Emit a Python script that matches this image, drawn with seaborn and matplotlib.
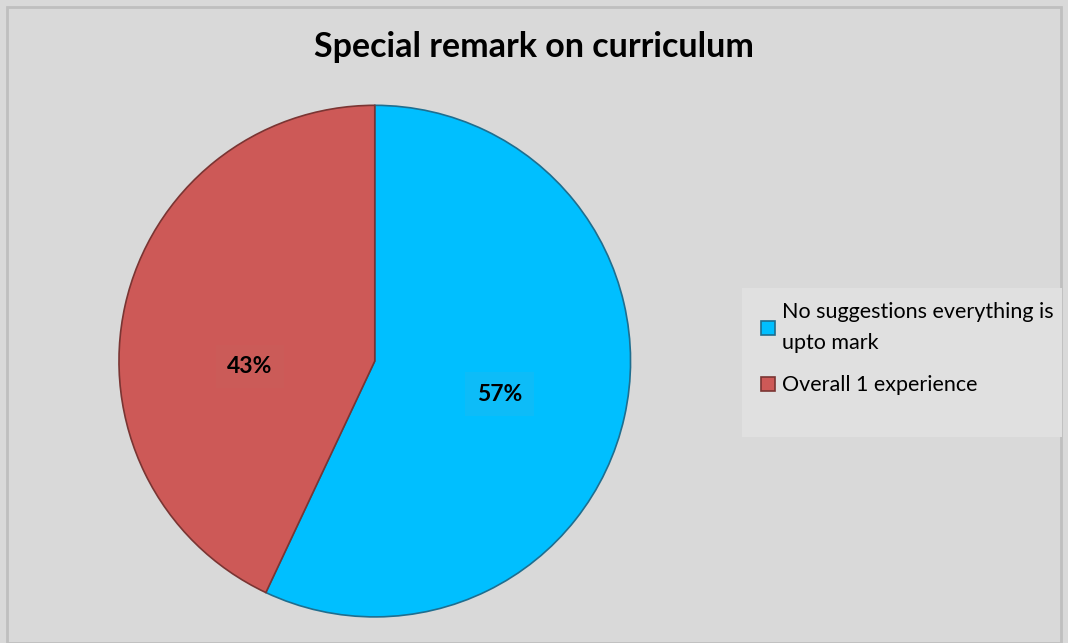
import matplotlib
matplotlib.use("Agg")
import matplotlib.pyplot as plt
import seaborn as sns
from matplotlib.patches import Rectangle

categories = ["No suggestions everything is\nupto mark", "Overall 1 experience"]
values = [57, 43]
colors = ["#00BFFF", "#CD5957"]
label_colors = ["#0DBCF8", "#CB5B58"]
title = "Special remark on curriculum"

sns.set_theme(style="white")
plt.rcParams['font.family'] = ['Lato', 'DejaVu Sans']
plt.rcParams['text.color'] = 'black'

fig = plt.figure(figsize=(10.68, 6.43), dpi=100, facecolor="#D9D9D9")
fig.patches.append(Rectangle((0.007, 0.0), 0.986, 0.989, transform=fig.transFigure,
                             fill=False, edgecolor="#BFBFBF", linewidth=2, zorder=0))

ax = fig.add_axes([0.1114, 0.0404, 0.479, 0.796])
ax.set_facecolor("none")
wedges, texts, autotexts = ax.pie(
    values, colors=colors, startangle=90, counterclock=False,
    autopct=lambda p: f"{p:.0f}%", pctdistance=0.5,
    wedgeprops=dict(edgecolor="#7A3533", linewidth=1.2),
    textprops=dict(fontsize=16.5, fontweight="bold", color="black"))
wedges[0].set_edgecolor("#1F6E8F")
for t, c in zip(autotexts, label_colors):
    t.set_bbox(dict(boxstyle="square,pad=0.5", facecolor=c, edgecolor="none"))
# Excel-style label placement nudges
x1, y1 = autotexts[1].get_position()
autotexts[1].set_position((x1, y1 - 0.13))
x0, y0 = autotexts[0].get_position()
autotexts[0].set_position((x0, y0 - 0.02))
ax.set_aspect("equal")
ax.set_xlim(-1.0, 1.0)
ax.set_ylim(-1.0, 1.0)

fig.text(0.5, 0.927, title, ha="center", va="center", fontsize=24.5,
         fontweight="bold", color="black")

# legend panel
fig.patches.append(Rectangle((0.695, 0.3204), 0.299, 0.2317, transform=fig.transFigure,
                             facecolor="#E0E0E0", edgecolor="none", zorder=1))
leg = fig.legend(wedges, categories, loc="upper left", bbox_to_anchor=(0.698, 0.553),
                 frameon=False, fontsize=15.5, handlelength=0.65, handleheight=0.65,
                 handletextpad=0.35, labelspacing=1.05, borderpad=0.2)
for t in leg.get_texts():
    t.set_linespacing(1.65)
    t.set_color("black")
leg.set_zorder(2)

fig.savefig("out.png", dpi=100, facecolor=fig.get_facecolor())
